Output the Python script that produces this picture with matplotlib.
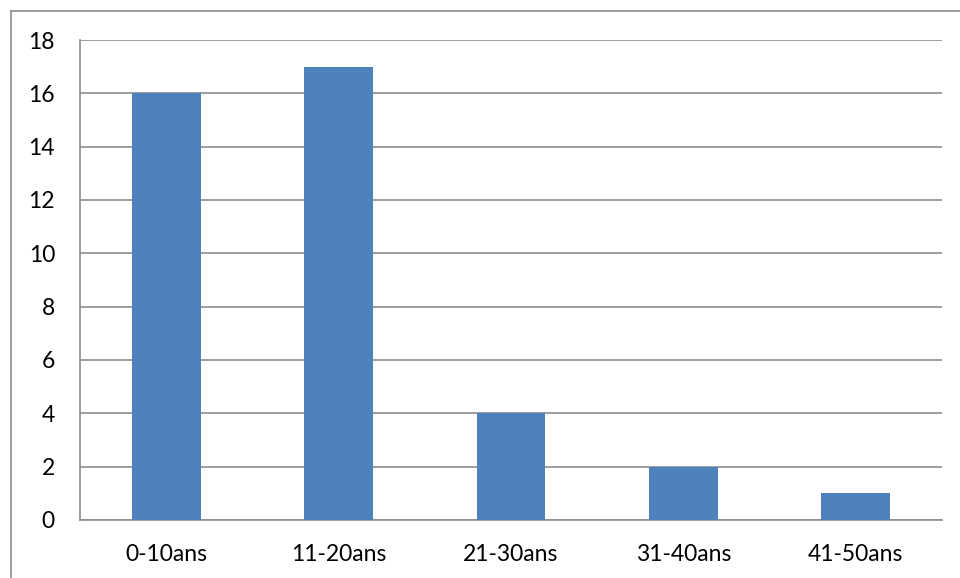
import numpy as np
import matplotlib.pyplot as plt
from matplotlib.lines import Line2D

categories = ["0-10ans", "11-20ans", "21-30ans", "31-40ans", "41-50ans"]
values = [16, 17, 4, 2, 1]
yticks = [0, 2, 4, 6, 8, 10, 12, 14, 16, 18]

plt.rcParams['font.family'] = ['Lato', 'DejaVu Sans']

fig = plt.figure(figsize=(9.6, 5.78), dpi=100)
ax = fig.add_axes([80 / 960, 1 - 520 / 578, 862 / 960, 480 / 578])

x = np.arange(len(categories))
ax.bar(x, values, width=0.4, color='#4F81BD', zorder=3)

ax.set_xlim(-0.5, len(categories) - 0.5)
ax.set_ylim(0, 18)
ax.set_yticks(yticks)
ax.set_xticks(x)
ax.set_xticklabels(categories)
ax.yaxis.grid(True, color='#8c8c8c', linewidth=1.2, zorder=0)
ax.tick_params(length=0, labelsize=16.5, colors='black')
ax.tick_params(axis='y', pad=18)
ax.tick_params(axis='x', pad=17)
for side in ['top', 'right']:
    ax.spines[side].set_visible(False)
for side in ['left', 'bottom']:
    ax.spines[side].set_color('#8c8c8c')
    ax.spines[side].set_linewidth(1.2)

# outer chart border
fig.add_artist(Line2D([11 / 960, 11 / 960], [0, 1 - 11 / 578], color='#8c8c8c', linewidth=1.2))
fig.add_artist(Line2D([11 / 960, 1], [1 - 11 / 578, 1 - 11 / 578], color='#8c8c8c', linewidth=1.2))

fig.savefig('out.png', dpi=100)
